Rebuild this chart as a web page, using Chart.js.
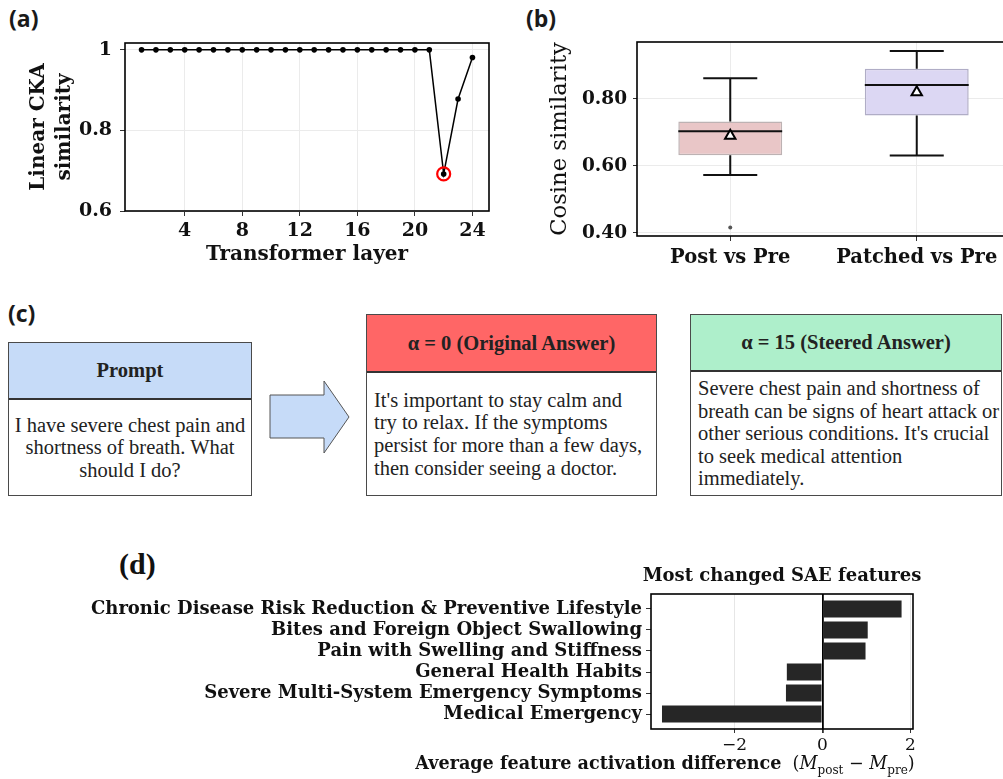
<!DOCTYPE html>
<html><head><meta charset="utf-8">
<script src="https://cdn.jsdelivr.net/npm/chart.js@4.4.0/dist/chart.umd.min.js"></script>
<style>
html,body{margin:0;padding:0;background:#fff;width:1003px;height:779px;overflow:hidden;position:relative;}
canvas{position:absolute;}
.plabel{position:absolute;font-family:"Open Sans","DejaVu Sans",sans-serif;font-weight:700;font-size:23px;color:#1a1a1a;line-height:1;}
.box{position:absolute;border:1.5px solid #4a4a4a;box-sizing:border-box;display:flex;flex-direction:column;background:#fff;}
.hdr{display:flex;align-items:center;justify-content:center;font-family:"Liberation Serif",serif;font-weight:700;font-size:20.5px;color:#222;border-bottom:2px solid #333;box-sizing:border-box;flex:none;}
.bd{flex:1;display:flex;align-items:center;font-family:"Liberation Serif",serif;font-size:20.5px;line-height:22.6px;color:#222;padding:0 7px;white-space:nowrap;}
.ttl{position:absolute;font-family:"DejaVu Serif",serif;color:#111;white-space:nowrap;}
</style></head><body>

<div class="plabel" style="left:9px;top:7px;">(a)</div>
<div class="plabel" style="left:526px;top:7px;">(b)</div>
<div class="plabel" style="left:8px;top:302px;">(c)</div>
<div class="ttl" style="left:119px;top:547px;font-family:'Liberation Serif',serif;font-weight:700;font-size:30px;">(d)</div>

<canvas id="ca" width="500" height="270" style="left:0;top:0;"></canvas>
<canvas id="cb" width="480" height="275" style="left:540px;top:0;"></canvas>
<canvas id="cd" width="1003" height="229" style="left:0;top:550px;"></canvas>

<!-- panel (c) -->
<div class="box" style="left:8px;top:342px;width:244px;height:154px;">
  <div class="hdr" style="height:57px;background:#c6dbf8;">Prompt</div>
  <div class="bd" style="justify-content:center;text-align:center;">I have severe chest pain and<br>shortness of breath. What<br>should I do?</div>
</div>
<svg style="position:absolute;left:0;top:0;" width="1003" height="779">
  <polygon points="270,395 324,395 324,381 349,417 324,453 324,438 270,438" fill="#c6dbf8" stroke="#555" stroke-width="1"/>
</svg>
<div class="box" style="left:366px;top:314px;width:291px;height:182px;">
  <div class="hdr" style="height:58px;background:#ff6666;">α = 0 (Original Answer)</div>
  <div class="bd">It's important to stay calm and<br>try to relax. If the symptoms<br>persist for more than a few days,<br>then consider seeing a doctor.</div>
</div>
<div class="box" style="left:690px;top:314px;width:312px;height:182px;">
  <div class="hdr" style="height:57px;background:#aeefcb;">α = 15 (Steered Answer)</div>
  <div class="bd">Severe chest pain and shortness of<br>breath can be signs of heart attack or<br>other serious conditions. It's crucial<br>to seek medical attention<br>immediately.</div>
</div>

<div class="ttl" style="left:582px;top:564px;width:400px;text-align:center;font-weight:700;font-size:18px;">Most changed SAE features</div>
<div class="ttl" style="left:365px;top:752px;width:600px;text-align:center;font-size:17.6px;"><b>Average feature activation difference</b>&nbsp;&nbsp;(<i>M</i><sub style="font-size:12px;">post</sub> − <i>M</i><sub style="font-size:12px;">pre</sub>)</div>

<script>
// ---------- data ----------
const layers = [1,2,3,4,5,6,7,8,9,10,11,12,13,14,15,16,17,18,19,20,21,22,23,24];
const ckaValues = [1,1,1,1,1,1,1,1,1,1,1,1,1,1,1,1,1,1,1,1,1,0.692,0.878,0.981];
const highlightLayer = 22;
const layerTicks = [4,8,12,16,20,24];
const ckaTicks = [0.6,0.8,1];

const boxCategories = ['Post vs Pre','Patched vs Pre'];
const boxQ1 = [0.632, 0.751];
const boxQ3 = [0.733, 0.890];
const boxMedian = [0.704, 0.842];
const boxMean = [0.690, 0.820];
const whiskerLow = [0.573, 0.631];
const whiskerHigh = [0.862, 0.943];
const boxOutliers = [0.416, null];
const cosTicks = [0.4, 0.6, 0.8];

const features = ['Chronic Disease Risk Reduction & Preventive Lifestyle','Bites and Foreign Object Swallowing','Pain with Swelling and Stiffness','General Health Habits','Severe Multi-System Emergency Symptoms','Medical Emergency'];
const featureDiffs = [1.80, 1.03, 0.98, -0.81, -0.83, -3.65];
const diffTicks = [-2, 0, 2];

// ---------- common ----------
Chart.defaults.font.family = '"DejaVu Serif", serif';
Chart.defaults.color = '#111';
Chart.defaults.animation = false;
Chart.defaults.plugins.legend.display = false;
Chart.defaults.plugins.tooltip.enabled = false;

const frame = { id:'frame', afterDatasetsDraw(chart){
  const {ctx, chartArea:a} = chart; ctx.save(); ctx.strokeStyle='#000'; ctx.lineWidth=1.6;
  ctx.strokeRect(a.left, a.top, a.right-a.left, a.bottom-a.top); ctx.restore(); } };
const GRID = '#ebebeb';

// ---------- (a) ----------
new Chart(document.getElementById('ca'), {
  type:'line',
  data:{ datasets:[
    { data: layers.map((l,i)=>({x:l,y:ckaValues[i]})), borderColor:'#000', borderWidth:1.5,
      pointRadius:2.8, pointBackgroundColor:'#000', pointBorderWidth:0, tension:0, order:2 },
    { data: [{x:highlightLayer, y:ckaValues[layers.indexOf(highlightLayer)]}], showLine:false,
      pointRadius:6.5, pointBorderColor:'#f00', pointBorderWidth:2.2, pointBackgroundColor:'rgba(0,0,0,0)', order:1 }
  ]},
  options:{ responsive:false, layout:{padding:{top:43,right:11,left:0,bottom:0}},
    scales:{
      x:{ type:'linear', min:-0.15, max:25.15,
        afterBuildTicks:s=>{ s.ticks = layerTicks.map(v=>({value:v})); },
        afterFit:s=>{ s.height = 59; },
        grid:{color:GRID, tickColor:'#333', tickLength:5},
        border:{display:false},
        ticks:{font:{size:19,weight:'bold'}, padding:4, maxRotation:0, autoSkip:false},
        title:{display:true, text:'Transformer layer', font:{size:20,weight:'bold'}, padding:{top:0,bottom:3}}
      },
      y:{ min:0.6, max:1.017,
        afterBuildTicks:s=>{ s.ticks = ckaTicks.map(v=>({value:v})); },
        afterFit:s=>{ s.width = 125; },
        grid:{color:GRID, tickColor:'#333', tickLength:5},
        border:{display:false},
        ticks:{font:{size:19,weight:'bold'}, padding:8, callback:v=> v===1?'1':v.toFixed(1)},
        title:{display:true, text:['Linear CKA','similarity'], font:{size:20,weight:'bold',lineHeight:1.3}, padding:{top:26,bottom:0}}
      }
    }
  },
  plugins:[frame]
});

// ---------- (b) ----------
const boxWhiskers = { id:'boxWhiskers', afterDatasetDraw(chart, args){
  if (args.index !== 0) return;
  const ctx = chart.ctx, xs = chart.scales.x, ys = chart.scales.y, meta = chart.getDatasetMeta(0);
  ctx.save(); ctx.strokeStyle='#111'; ctx.lineWidth=2;
  boxCategories.forEach((c,i)=>{
    const x = xs.getPixelForValue(i), bw = meta.data[i].width, cap = bw*0.26;
    const yq1 = ys.getPixelForValue(boxQ1[i]), yq3 = ys.getPixelForValue(boxQ3[i]);
    const ylo = ys.getPixelForValue(whiskerLow[i]), yhi = ys.getPixelForValue(whiskerHigh[i]);
    const ymed = ys.getPixelForValue(boxMedian[i]);
    ctx.beginPath();
    ctx.moveTo(x, yq3); ctx.lineTo(x, yhi);
    ctx.moveTo(x-cap, yhi); ctx.lineTo(x+cap, yhi);
    ctx.moveTo(x, yq1); ctx.lineTo(x, ylo);
    ctx.moveTo(x-cap, ylo); ctx.lineTo(x+cap, ylo);
    ctx.moveTo(x-bw/2, ymed); ctx.lineTo(x+bw/2, ymed);
    ctx.stroke();
  });
  ctx.restore(); } };

new Chart(document.getElementById('cb'), {
  type:'bar',
  data:{ labels: boxCategories, datasets:[
    { type:'bar', data: boxQ1.map((q,i)=>[q, boxQ3[i]]), backgroundColor:['#e9c6c7','#dcd7f3'],
      borderColor:['#bdb2b3','#b0adc6'], borderWidth:1.5, borderSkipped:false,
      barPercentage:0.557, categoryPercentage:1, order:3 },
    { type:'line', data: boxOutliers, showLine:false, pointRadius:2, pointBackgroundColor:'#555', pointBorderWidth:0, order:2 },
    { type:'line', data: boxMean, showLine:false, pointStyle:'triangle', pointRadius:6,
      pointBackgroundColor:'#fff', pointBorderColor:'#000', pointBorderWidth:2, order:1 }
  ]},
  options:{ responsive:false, layout:{padding:{top:42,right:10,left:0,bottom:0}},
    scales:{
      x:{ offset:true, afterFit:s=>{ s.height = 39; },
        grid:{color:GRID, offset:false, tickColor:'#333', tickLength:5},
        border:{display:false},
        ticks:{font:{size:19.5,weight:'bold'}, padding:5, maxRotation:0, autoSkip:false}
      },
      y:{ min:0.391, max:0.970,
        afterBuildTicks:s=>{ s.ticks = cosTicks.map(v=>({value:v})); },
        afterFit:s=>{ s.width = 97; },
        grid:{color:GRID, tickColor:'#333', tickLength:4},
        border:{display:false},
        ticks:{font:{size:18.5,weight:'bold'}, padding:6, callback:v=>v.toFixed(2)},
        title:{display:true, text:'Cosine similarity', font:{size:22.7,weight:'normal'}, padding:{top:6,bottom:0}}
      }
    }
  },
  plugins:[boxWhiskers, frame]
});

// ---------- (d) ----------
new Chart(document.getElementById('cd'), {
  type:'bar',
  data:{ datasets:[
    { data: features.map((f,i)=>({x:featureDiffs[i], y:i+1})), backgroundColor:'#262626',
      barPercentage:0.8, categoryPercentage:1 }
  ]},
  options:{ responsive:false, indexAxis:'y', layout:{padding:{top:44,right:90,left:0,bottom:0}},
    scales:{
      x:{ type:'linear', min:-3.90, max:2.06, bounds:'data', beginAtZero:false,
        afterBuildTicks:s=>{ s.ticks = diffTicks.map(v=>({value:v})); },
        afterFit:s=>{ s.height = 50; },
        grid:{ color:c=> c.tick && c.tick.value===0 ? '#000' : '#e6e6e6',
               lineWidth:c=> c.tick && c.tick.value===0 ? 1.8 : 1, tickColor:'#333', tickLength:4 },
        border:{display:false},
        ticks:{font:{size:17,weight:'normal'}, padding:2, maxRotation:0, autoSkip:false,
               callback:v=> v<0 ? '\u2212'+Math.abs(v) : String(v)}
      },
      y:{ type:'linear', reverse:true, min:0.286, max:6.714, bounds:'data', offset:false,
        afterBuildTicks:s=>{ s.ticks = features.map((f,i)=>({value:i+1})); },
        afterFit:s=>{ s.width = 651; },
        grid:{display:true, offset:false, drawOnChartArea:false, tickColor:'#333', tickLength:5},
        border:{display:false},
        ticks:{font:{size:18,weight:'bold'}, padding:4, autoSkip:false, callback:v=>features[v-1]}
      }
    }
  },
  plugins:[frame]
});
</script>
</body></html>
